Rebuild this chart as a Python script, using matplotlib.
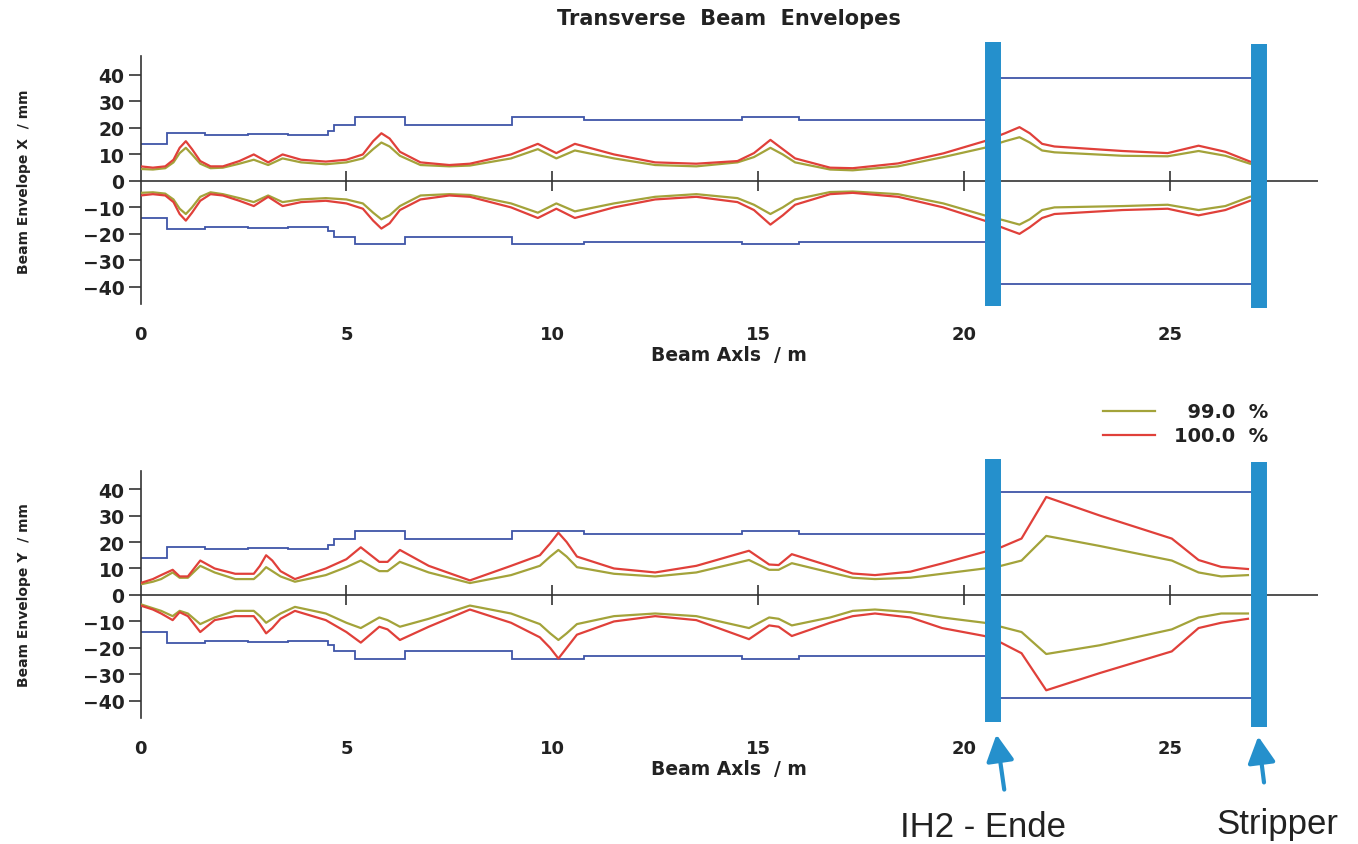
import numpy as np
import matplotlib.pyplot as plt

# aperture (beam pipe radius) as steps along the beam axis, same for X and Y
ap_edges = [0, 0.64, 1.57, 2.6, 3.58, 4.55, 4.7, 5.2, 6.42, 9.02, 10.78, 14.6, 16.0, 20.7, 27.2]
ap_radius = [14, 18, 17.5, 17.8, 17.3, 19, 21, 24, 21, 24, 23, 24, 23, 39]

# horizontal envelopes
sx = [0, 0.3, 0.6, 0.8, 0.95, 1.1, 1.25, 1.45, 1.7, 2.0, 2.4, 2.75, 3.1, 3.45, 3.9, 4.5,
      5.0, 5.4, 5.65, 5.85, 6.05, 6.3, 6.8, 7.5, 8.0, 9.0, 9.65, 10.1, 10.55, 11.5, 12.5,
      13.5, 14.5, 14.9, 15.3, 15.6, 15.9, 16.75, 17.3, 18.4, 19.5, 20.5, 21.0, 21.35, 21.6,
      21.9, 22.2, 23.85, 24.95, 25.7, 26.35, 26.95]
x100_up = [5.5, 5, 5.5, 8, 12.5, 15, 12, 7.5, 5.5, 5.5, 7.5, 10, 7, 10, 8, 7.3,
           8, 10, 15, 18, 16, 11, 7, 6, 6.5, 10, 14, 10.5, 14, 10, 7,
           6.5, 7.5, 10.5, 15.5, 12, 8.5, 5, 4.8, 6.6, 10.4, 15, 18, 20.3, 18,
           14, 13, 11.3, 10.5, 13.3, 11, 7.3]
x99_up = [4.5, 4.3, 4.8, 7, 10.5, 12.5, 10, 6.5, 4.8, 5, 6.5, 8, 6, 8.5, 7, 6.3,
          7, 8.5, 12, 14.5, 13, 9.5, 6, 5.5, 5.8, 8.5, 12, 8.5, 11.5, 8.5, 6,
          5.5, 7, 9, 12.5, 10, 7, 4.3, 4, 5.5, 9, 12.5, 15, 16.5, 14.5,
          11.5, 10.8, 9.5, 9.3, 11.3, 9.5, 6.5]
x100_lo = [-5.5, -5, -5.5, -8, -12.5, -15, -12, -7.5, -5, -5.5, -7.5, -9.5, -6, -9.5, -8, -7.5,
           -8.5, -10.5, -15, -18, -16, -11, -7, -5.5, -6, -10, -14, -10.5, -14, -10, -7,
           -6, -8, -11, -16.5, -13, -9, -5, -4.5, -6, -10, -15, -18, -20, -17.5,
           -14, -12.5, -11, -10.5, -13, -11, -7.5]
x99_lo = [-4.5, -4.3, -4.8, -7, -10.5, -12.5, -10, -6, -4.3, -5, -6.5, -8, -5.5, -8, -7, -6.5,
          -7, -8.5, -12, -14.5, -13, -9.5, -5.5, -5, -5.3, -8.5, -12, -8.5, -11.5, -8.5, -6,
          -5, -6.5, -9, -12.5, -10, -7, -4.2, -4, -5, -8.5, -13, -15, -16.5, -14.5,
          -11, -10, -9.5, -9, -11, -9.5, -6]

# vertical envelopes
sy = [0, 0.3, 0.5, 0.78, 0.95, 1.15, 1.45, 1.8, 2.3, 2.75, 2.9, 3.05, 3.2, 3.4, 3.75, 4.5,
      5.0, 5.35, 5.8, 6.0, 6.3, 7.0, 8.0, 9.0, 9.7, 9.95, 10.15, 10.35, 10.6, 11.5, 12.5,
      13.5, 14.78, 15.27, 15.5, 15.82, 16.75, 17.3, 17.84, 18.7, 19.47, 20.5, 20.9, 21.4,
      22.0, 23.3, 25.05, 25.7, 26.25, 26.9]
y100_up = [4.5, 6, 7.5, 9.5, 7, 7, 13, 10, 8, 8, 11, 15, 13, 9, 6, 10,
           13.5, 18, 12.5, 12.5, 17, 11, 5.5, 11, 15, 19.5, 23.5, 20, 14.5, 10, 8.5,
           11, 16.7, 11.5, 11.3, 15.4, 10.9, 8.1, 7.5, 8.8, 11.9, 16.3, 18, 21.3,
           37, 30, 21.3, 13.2, 10.6, 9.8]
y99_up = [4, 5, 6, 8.5, 6.5, 6.5, 11, 8.5, 6, 6, 8, 10.5, 9, 7, 5, 7.5,
          10.5, 13, 9, 9, 12.5, 8.5, 4.5, 7.5, 11, 14.5, 17, 14.5, 10.5, 8, 7,
          8.5, 13.2, 9.5, 9.5, 12, 8.5, 6.5, 6, 6.5, 8, 10, 11, 13,
          22.3, 18.5, 13, 8.5, 7, 7.5]
y100_lo = [-4, -5.5, -7, -9.5, -6.5, -8, -14, -9.5, -8, -8, -11, -14.5, -12.5, -9, -6, -9.5,
           -14, -18, -12, -13, -17, -12, -5.5, -10.5, -16, -20, -24, -20, -15, -10, -8,
           -9.5, -16.7, -11.5, -12, -15.5, -10.5, -8, -7, -8.5, -12.5, -15.5, -18, -22,
           -36, -29.5, -21.3, -12.5, -10.5, -9]
y99_lo = [-3.5, -5, -6, -8, -6, -7, -11, -8.5, -6, -6, -8, -10.5, -9, -7, -4.5, -7,
          -10.5, -12.5, -8.5, -9.5, -12, -9, -4, -7, -11, -14.5, -17, -14.5, -11, -8, -7,
          -8, -12.5, -8.5, -9, -11.5, -8.5, -6, -5.5, -6.5, -8.5, -10.5, -12, -14,
          -22.3, -19, -13, -8.5, -7, -7]

xticks = [0, 5, 10, 15, 20, 25]
yticks = [40, 30, 20, 10, 0, -10, -20, -30, -40]
marker_pos = [20.7, 27.17]   # IH2 end, stripper
marker_names = ['IH2 - Ende', 'Stripper']

red = '#e0403a'
olive = '#a3a33a'
blue = '#3f55a8'
cyan = '#2590cc'
ink = '#222222'

plt.rcParams['font.family'] = ['DejaVu Sans']

fig = plt.figure(figsize=(13.58, 8.45), dpi=100)
ax1 = fig.add_axes([0.1035, 0.639, 0.867, 0.293])
ax2 = fig.add_axes([0.1035, 0.149, 0.867, 0.293])

panels = [
    (ax1, sx, x99_up, x99_lo, x100_up, x100_lo, 'Beam Envelope X  / mm', [(52.4, -47.2), (51.7, -47.9)]),
    (ax2, sy, y99_up, y99_lo, y100_up, y100_lo, 'Beam Envelope Y  / mm', [(51.5, -48.1), (50.4, -50.0)]),
]

for ax, s, e99u, e99l, e100u, e100l, ylab, bars in panels:
    ax.stairs(ap_radius, ap_edges, baseline=None, color=blue, lw=1.3, zorder=2)
    ax.stairs(-np.array(ap_radius), ap_edges, baseline=None, color=blue, lw=1.3, zorder=2)
    l99, = ax.plot(s, e99u, color=olive, lw=1.6, zorder=3)
    ax.plot(s, e99l, color=olive, lw=1.6, zorder=3)
    l100, = ax.plot(s, e100u, color=red, lw=1.6, zorder=3)
    ax.plot(s, e100l, color=red, lw=1.6, zorder=3)

    ax.axhline(0, color='#333333', lw=1.2, zorder=1)
    ax.plot(xticks[1:], np.zeros(len(xticks) - 1), ls='none', marker='|', ms=14,
            mew=1.2, color='#333333', zorder=1)

    for xp, (top, bot) in zip(marker_pos, bars):
        ax.vlines(xp, bot, top, color=cyan, lw=11.5, zorder=5, clip_on=False)

    ax.set_xlim(0, 28.6)
    ax.set_ylim(-46.5, 47)
    for side in ['top', 'right', 'bottom']:
        ax.spines[side].set_visible(False)
    ax.spines['left'].set_color('#333333')
    ax.spines['left'].set_linewidth(1.2)

    ax.set_xticks(xticks)
    ax.set_yticks(yticks)
    ax.tick_params(axis='x', length=0, pad=15, labelsize=13, labelcolor=ink)
    ax.tick_params(axis='y', length=8.5, width=1.2, color='#333333', pad=3,
                   labelsize=13.5, labelcolor=ink)
    for t in ax.get_xticklabels() + ax.get_yticklabels():
        t.set_fontweight('bold')

    ax.set_xlabel('Beam Axls  / m', fontsize=13.5, fontweight='bold', color=ink)
    ax.xaxis.set_label_coords(0.5, -0.165)
    ax.set_ylabel(ylab, fontsize=10, fontweight='bold', color=ink)
    ax.yaxis.set_label_coords(-0.093, 0.5)

fig.text(0.537, 0.978, 'Transverse  Beam  Envelopes', ha='center', va='center',
         fontsize=15, fontweight='bold', color=ink)

leg = ax2.legend([l99, l100], ['  99.0  %', '100.0  %'], loc='upper left',
                 bbox_to_anchor=(1085 / 1358, 1 - 386 / 845), bbox_transform=fig.transFigure,
                 frameon=False, handlelength=2.7, handletextpad=1.0, labelspacing=0.25,
                 prop={'size': 14, 'weight': 'bold'})
for t in leg.get_texts():
    t.set_color(ink)

# arrows pointing at the two markers, with their names below
arrow_tips = [(20.79, -52.7), (27.15, -53.4)]
arrow_tails = [(20.98, -73.5), (27.29, -70.8)]
for tip, tail in zip(arrow_tips, arrow_tails):
    ax2.annotate('', xy=tip, xytext=tail, annotation_clip=False,
                 arrowprops=dict(arrowstyle='-|>,head_length=0.8,head_width=0.42',
                                 mutation_scale=20, color=cyan, lw=3,
                                 shrinkA=0, shrinkB=0))
fig.text(983 / 1358, 1 - 828 / 845, marker_names[0], ha='center', va='center',
         fontsize=25, family='Liberation Sans', color=ink)
fig.text(1277 / 1358, 1 - 825 / 845, marker_names[1], ha='center', va='center',
         fontsize=25, family='Liberation Sans', color=ink)

fig.savefig('out.png', dpi=100)
